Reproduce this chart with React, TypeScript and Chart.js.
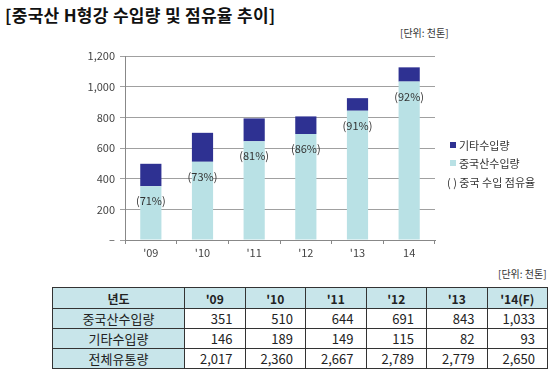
import React, { useEffect, useRef } from "react";
import { Chart, registerables } from "chart.js";

Chart.register(...registerables);

const chartYears = ["'09", "'10", "'11", "'12", "'13", "14"];
const tableYears = ["'09", "'10", "'11", "'12", "'13", "'14(F)"];
const chinaImports = [351, 510, 644, 691, 843, 1033];
const otherImports = [146, 189, 149, 115, 82, 93];
const chinaShare = [71, 73, 81, 86, 91, 92];
const totalDistribution = [2017, 2360, 2667, 2789, 2779, 2650];
const yTicks = [0, 200, 400, 600, 800, 1000, 1200];

const DARK = "#2e3192";
const LIGHT = "#b9e1e5";
const HEADER_BG = "#c8e5ea";
const FONT = '"Noto Sans CJK KR", "Noto Sans", sans-serif';

const fmt = (v: number) => v.toLocaleString("en-US");

const shareLabels = {
  id: "shareLabels",
  afterDatasetsDraw(chart: any) {
    const ctx = chart.ctx;
    const meta = chart.getDatasetMeta(0);
    ctx.save();
    ctx.font = `11px ${FONT}`;
    ctx.fillStyle = "#333";
    ctx.textAlign = "center";
    ctx.textBaseline = "middle";
    meta.data.forEach((el: any, i: number) => {
      ctx.fillText(`(${chinaShare[i]}%)`, el.x, el.y + 15);
    });
    ctx.restore();
  },
};

export default function App() {
  const ref = useRef<HTMLCanvasElement>(null);
  useEffect(() => {
    if (!ref.current) return;
    const chart = new Chart(ref.current, {
      type: "bar",
      data: {
        labels: chartYears,
        datasets: [
          {
            label: "중국산수입량",
            data: chinaImports,
            backgroundColor: LIGHT,
            barPercentage: 0.41,
            categoryPercentage: 1,
          },
          {
            label: "기타수입량",
            data: otherImports,
            backgroundColor: DARK,
            barPercentage: 0.41,
            categoryPercentage: 1,
          },
        ],
      },
      options: {
        animation: false,
        responsive: false,
        layout: { padding: { left: 0, right: 125, top: 56, bottom: 0 } },
        plugins: { legend: { display: false }, tooltip: { enabled: false } },
        scales: {
          x: {
            stacked: true,
            grid: {
              display: true,
              drawOnChartArea: false,
              drawTicks: true,
              tickLength: 4,
              color: "#888",
            },
            border: { color: "#888" },
            ticks: { font: { family: FONT, size: 11 }, color: "#444", padding: 2 },
            afterFit: (s: any) => {
              s.height = 25;
            },
          },
          y: {
            stacked: true,
            min: 0,
            max: 1200,
            afterBuildTicks: (s: any) => {
              s.ticks = yTicks.map((v) => ({ value: v }));
            },
            grid: { color: "#a0a0a0", tickLength: 5 },
            border: { color: "#888" },
            ticks: {
              font: { family: FONT, size: 11 },
              color: "#444",
              padding: 5,
              callback: (v: any) => (v === 0 ? "–" : fmt(Number(v))),
            },
            afterFit: (s: any) => {
              s.width = 125;
            },
          },
        },
      },
      plugins: [shareLabels],
    });
    return () => chart.destroy();
  }, []);

  const cell: React.CSSProperties = {
    border: "1px solid #333",
    padding: "0 12px 0 0",
    textAlign: "right",
    fontSize: 13,
    lineHeight: "17px",
    color: "#222",
  };
  const labelCell: React.CSSProperties = {
    border: "1px solid #333",
    background: HEADER_BG,
    textAlign: "center",
    fontSize: 13,
    lineHeight: "17px",
    color: "#222",
    padding: 0,
  };
  const headCell: React.CSSProperties = {
    border: "1px solid #333",
    background: HEADER_BG,
    textAlign: "center",
    fontSize: 12,
    lineHeight: "17px",
    fontWeight: "bold",
    color: "#222",
    padding: 0,
  };

  const rows: [string, number[]][] = [
    ["중국산수입량", chinaImports],
    ["기타수입량", otherImports],
    ["전체유통량", totalDistribution],
  ];

  return (
    <div
      style={{
        position: "absolute",
        left: 0,
        top: 0,
        width: 560,
        height: 374,
        background: "#fff",
        fontFamily: FONT,
        overflow: "hidden",
      }}
    >
      <div
        style={{
          position: "absolute",
          left: 5,
          top: 2,
          fontSize: 17,
          letterSpacing: 0.3,
          fontWeight: "bold",
          color: "#111",
          whiteSpace: "nowrap",
        }}
      >
        [중국산 H형강 수입량 및 점유율 추이]
      </div>
      <div style={{ position: "absolute", left: 400, top: 25, fontSize: 10, color: "#333" }}>
        [단위: 천톤]
      </div>
      <canvas
        ref={ref}
        width={560}
        height={265}
        style={{ position: "absolute", left: 0, top: 0, width: 560, height: 265 }}
      />
      <div style={{ position: "absolute", left: 450, top: 136, fontSize: 11, color: "#333", lineHeight: "18px" }}>
        <div style={{ display: "flex", alignItems: "center" }}>
          <span style={{ display: "inline-block", width: 6, height: 6, background: DARK, marginRight: 3 }} />
          기타수입량
        </div>
        <div style={{ display: "flex", alignItems: "center" }}>
          <span style={{ display: "inline-block", width: 6, height: 6, background: LIGHT, marginRight: 3 }} />
          중국산수입량
        </div>
        <div style={{ marginLeft: -3, marginTop: 1 }}>( ) 중국 수입 점유율</div>
      </div>
      <div style={{ position: "absolute", left: 498, top: 266, fontSize: 10, color: "#333" }}>
        [단위: 천톤]
      </div>
      <table
        style={{
          position: "absolute",
          left: 52,
          top: 287,
          width: 495,
          borderCollapse: "collapse",
          tableLayout: "fixed",
        }}
      >
        <colgroup>
          <col style={{ width: 132 }} />
          {tableYears.map((y) => (
            <col key={y} style={{ width: 60.5 }} />
          ))}
        </colgroup>
        <thead>
          <tr style={{ height: 21 }}>
            <th style={headCell}>년도</th>
            {tableYears.map((y) => (
              <th key={y} style={headCell}>
                {y}
              </th>
            ))}
          </tr>
        </thead>
        <tbody>
          {rows.map(([name, vals]) => (
            <tr key={name} style={{ height: 20 }}>
              <td style={labelCell}>{name}</td>
              {vals.map((v, i) => (
                <td key={i} style={cell}>
                  {fmt(v)}
                </td>
              ))}
            </tr>
          ))}
        </tbody>
      </table>
    </div>
  );
}
